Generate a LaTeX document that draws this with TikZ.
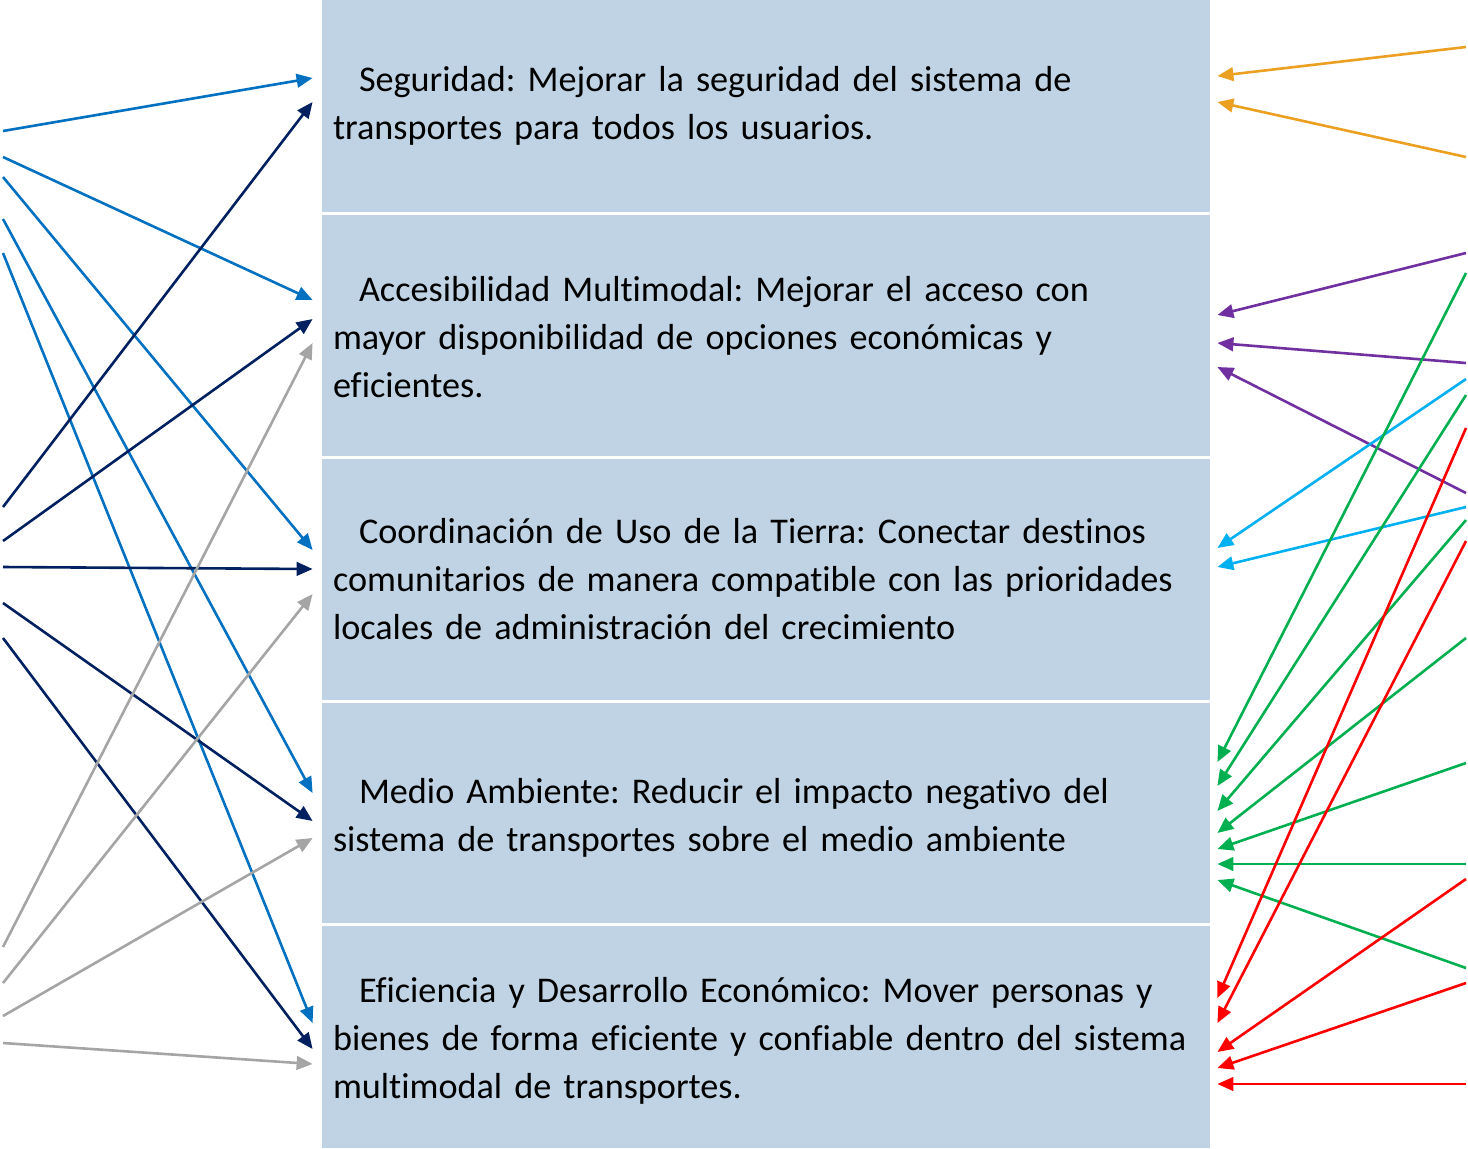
\documentclass[tikz,border=0pt]{standalone}
\usepackage{fontspec}
\setmainfont{Carlito}[Ligatures=NoCommon]
\usetikzlibrary{arrows.meta}
\hyphenpenalty=10000
\frenchspacing
\definecolor{boxblue}{RGB}{192,211,228}
\definecolor{cblue}{HTML}{0070C0}
\definecolor{cnavy}{HTML}{002060}
\definecolor{cgray}{HTML}{A5A5A5}
\definecolor{corange}{RGB}{236,160,34}
\definecolor{cpurple}{HTML}{7030A0}
\definecolor{ccyan}{HTML}{00B0F0}
\definecolor{cgreen}{HTML}{00B050}
\definecolor{cred}{HTML}{FF0000}
\tikzset{
  goalbox/.style={fill=boxblue, draw=none, text width=433pt, inner xsep=5.5pt, inner ysep=0pt,
    align=left, font=\fontsize{18.1}{24}\selectfont\frenchspacing},
  arr/.style={line width=1.3pt, -{Triangle[length=8pt,width=6.8pt]}}
}
\begin{document}
\begin{tikzpicture}[x=0.5pt,y=-0.5pt]
\useasboundingbox (0,0) rectangle (1468,1148);
\node[goalbox, minimum height=106pt] (b1) at (766,106)
  {\hspace*{13pt}Seguridad: Mejorar la seguridad del sistema de\\transportes para todos los usuarios.};
\node[goalbox, minimum height=120.5pt] (b2) at (766,335.5)
  {\rule{0pt}{14.5pt}\hspace*{13pt}Accesibilidad Multimodal: Mejorar el acceso con\\mayor disponibilidad de opciones económicas y\\eficientes.};
\node[goalbox, minimum height=120.5pt] (b3) at (766,579.5)
  {\hspace*{13pt}Coordinación de Uso de la Tierra: Conectar destinos\\comunitarios de manera compatible con las prioridades\\locales de administración del crecimiento};
\node[goalbox, minimum height=110pt] (b4) at (766,813)
  {\rule{0pt}{17pt}\hspace*{13pt}Medio Ambiente: Reducir el impacto negativo del\\sistema de transportes sobre el medio ambiente};
\node[goalbox, minimum height=111pt] (b5) at (766,1037)
  {\rule{0pt}{16.5pt}\hspace*{13pt}Eficiencia y Desarrollo Económico: Mover personas y\\bienes de forma eficiente y confiable dentro del sistema\\multimodal de transportes.};

% left start points
\coordinate (l1) at (3,131);
\coordinate (l2) at (3,157);
\coordinate (l3) at (3,177);
\coordinate (l4) at (3,219);
\coordinate (l5) at (3,253);
\coordinate (l6) at (3,507);
\coordinate (l7) at (3,541);
\coordinate (l8) at (3,567);
\coordinate (l9) at (3,603);
\coordinate (l10) at (3,638);
\coordinate (l11) at (3,947);
\coordinate (l12) at (3,983);
\coordinate (l13) at (3,1016);
\coordinate (l14) at (3,1043);

\draw[arr,cblue] (l1) -- ([shift={(-9,-28)}]b1.west);
\draw[arr,cblue] (l2) -- ([shift={(-9,-35.5)}]b2.west);
\draw[arr,cblue] (l3) -- ([shift={(-9,-29.5)}]b3.west);
\draw[arr,cblue] (l4) -- ([shift={(-9,-20)}]b4.west);
\draw[arr,cblue] (l5) -- ([shift={(-9,-14)}]b5.west);
\draw[arr,cnavy] (l6) -- ([shift={(-9,-4)}]b1.west);
\draw[arr,cnavy] (l7) -- ([shift={(-9,-16.5)}]b2.west);
\draw[arr,cnavy] (l8) -- ([shift={(-9,-10.5)}]b3.west);
\draw[arr,cnavy] (l9) -- ([shift={(-9,8)}]b4.west);
\draw[arr,cnavy] (l10) -- ([shift={(-9,12)}]b5.west);
\draw[arr,cgray] (l11) -- ([shift={(-9,7.5)}]b2.west);
\draw[arr,cgray] (l12) -- ([shift={(-9,14.5)}]b3.west);
\draw[arr,cgray] (l13) -- ([shift={(-9,25)}]b4.west);
\draw[arr,cgray] (l14) -- ([shift={(-9,27)}]b5.west);

% right start points
\coordinate (r1) at (1466,47);
\coordinate (r2) at (1466,157);
\coordinate (r3) at (1466,253);
\coordinate (r4) at (1466,363);
\coordinate (r5) at (1466,493);
\coordinate (r6) at (1466,379);
\coordinate (r7) at (1466,507);
\coordinate (r8) at (1466,273);
\coordinate (r9) at (1466,395);
\coordinate (r10) at (1466,520);
\coordinate (r11) at (1466,638);
\coordinate (r12) at (1466,763);
\coordinate (r13) at (1466,864);
\coordinate (r14) at (1466,968);
\coordinate (r15) at (1466,428);
\coordinate (r16) at (1466,541);
\coordinate (r17) at (1466,879);
\coordinate (r18) at (1466,983);
\coordinate (r19) at (1466,1084);

\draw[arr,corange] (r1) -- ([shift={(7,-30)}]b1.east);
\draw[arr,corange] (r2) -- ([shift={(7,-4)}]b1.east);
\draw[arr,cpurple] (r3) -- ([shift={(7,-20.5)}]b2.east);
\draw[arr,cpurple] (r4) -- ([shift={(7,7.5)}]b2.east);
\draw[arr,cpurple] (r5) -- ([shift={(7,31.5)}]b2.east);
\draw[arr,ccyan] (r6) -- ([shift={(7,-31.5)}]b3.east);
\draw[arr,ccyan] (r7) -- ([shift={(7,-12.5)}]b3.east);
\draw[arr,cgreen] (r8) -- ([shift={(7,-51)}]b4.east);
\draw[arr,cgreen] (r9) -- ([shift={(7,-27)}]b4.east);
\draw[arr,cgreen] (r10) -- ([shift={(7,-2)}]b4.east);
\draw[arr,cgreen] (r11) -- ([shift={(7,20)}]b4.east);
\draw[arr,cgreen] (r12) -- ([shift={(7,36)}]b4.east);
\draw[arr,cgreen] (r13) -- ([shift={(7,51)}]b4.east);
\draw[arr,cgreen] (r14) -- ([shift={(7,67)}]b4.east);
\draw[arr,cred] (r15) -- ([shift={(7,-39)}]b5.east);
\draw[arr,cred] (r16) -- ([shift={(7,-14)}]b5.east);
\draw[arr,cred] (r17) -- ([shift={(7,15)}]b5.east);
\draw[arr,cred] (r18) -- ([shift={(7,31)}]b5.east);
\draw[arr,cred] (r19) -- ([shift={(7,47)}]b5.east);
\end{tikzpicture}
\end{document}
